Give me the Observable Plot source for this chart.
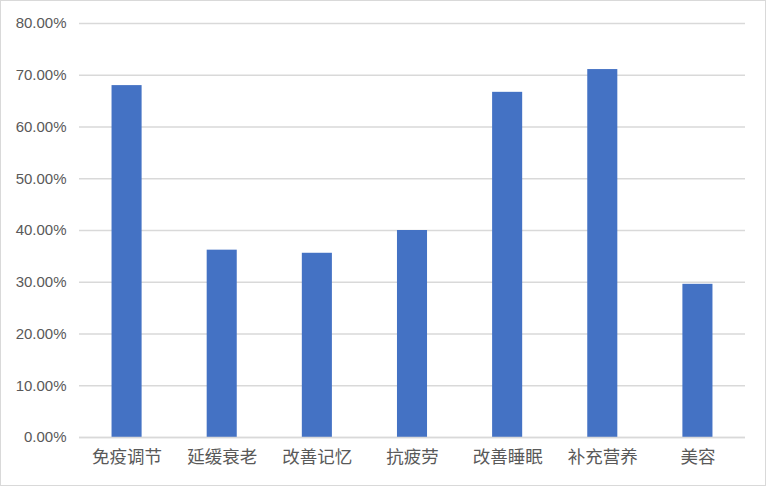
<!DOCTYPE html>
<html>
<head>
<meta charset="utf-8">
<script src="https://cdn.jsdelivr.net/npm/d3@7"></script>
<script src="https://cdn.jsdelivr.net/npm/@observablehq/plot@0.6"></script>
<style>
  html, body { margin: 0; padding: 0; background: #fff; }
  #chart { width: 766px; height: 486px; position: relative; overflow: hidden; }
  #chart svg { position: absolute; left: 0; top: 0; }
  #border { position: absolute; left: 0; top: 0; width: 766px; height: 486px; box-sizing: border-box; border: 1px solid #d9d9d9; pointer-events: none; }
</style>
</head>
<body>
<div id="chart"><div id="border"></div></div>
<script>
const categories = ["免疫调节", "延缓衰老", "改善记忆", "抗疲劳", "改善睡眠", "补充营养", "美容"];
const values = [0.680, 0.362, 0.356, 0.400, 0.667, 0.711, 0.296];
const yTicks = [0, 0.1, 0.2, 0.3, 0.4, 0.5, 0.6, 0.7, 0.8];

const data = categories.map((c, i) => ({category: c, value: values[i]}));

const chart = Plot.plot({
  width: 766,
  height: 486,
  marginLeft: 79,
  marginRight: 21,
  marginTop: 23,
  marginBottom: 49,
  style: {fontFamily: "'Noto Sans CJK SC', sans-serif", background: "transparent"},
  x: {domain: categories, paddingInner: 0.684, paddingOuter: 0.342, round: false, label: null},
  y: {domain: [0, 0.8], ticks: yTicks, label: null},
  marks: [
    Plot.gridY(yTicks, {stroke: "#d9d9d9", strokeOpacity: 1, strokeWidth: 1.3}),
    Plot.barY(data, {x: "category", y: "value", fill: "#4472c4"}),
    Plot.axisY(yTicks, {tickSize: 0, tickPadding: 13, tickFormat: d => (d * 100).toFixed(2) + "%", fill: "#595959", fontSize: 15, fontFamily: "'Liberation Sans', sans-serif", label: null}),
    Plot.axisX({tickSize: 0, tickPadding: 13, fill: "#595959", fontSize: 17.5, label: null}),
    Plot.ruleY([0], {stroke: "#d9d9d9", strokeWidth: 1.3})
  ]
});
document.getElementById("chart").insertBefore(chart, document.getElementById("border"));
</script>
</body>
</html>
